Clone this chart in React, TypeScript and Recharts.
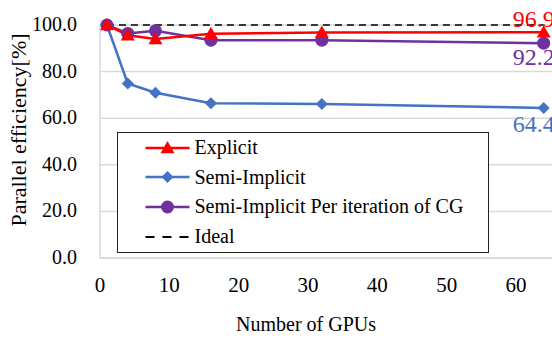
import React from "react";
import {
  LineChart,
  Line,
  XAxis,
  YAxis,
  CartesianGrid,
  Label,
  LabelList,
} from "recharts";

const gpus = [1, 4, 8, 16, 32, 64];
const explicit = [100, 95.6, 94.0, 96.2, 96.8, 96.9];
const semiImplicit = [100, 74.9, 70.9, 66.4, 66.1, 64.4];
const perIteration = [100, 96.4, 97.5, 93.5, 93.5, 92.2];
const ideal = [100, 100, 100, 100, 100, 100];

const xTicks = [0, 10, 20, 30, 40, 50, 60];
const yTicks = [0, 20, 40, 60, 80, 100];

const FONT = "Liberation Serif";

const COLORS = {
  explicit: "#ff0000",
  semi: "#4472c4",
  per: "#7030a0",
  ideal: "#000000",
};

const data = gpus.map((g, i) => ({
  gpus: g,
  explicit: explicit[i],
  semi: semiImplicit[i],
  per: perIteration[i],
  ideal: ideal[i],
}));

const lastIndex = gpus.length - 1;

function EndLabel(color: string, dy: number) {
  return (props: any) => {
    const { x, y, value, index } = props;
    if (index !== lastIndex) return null;
    return (
      <text
        x={x - 31}
        y={y + dy}
        fill={color}
        fontSize={24}
        fontFamily={FONT}
        textAnchor="start"
      >
        {Number(value).toFixed(1)}
      </text>
    );
  };
}

const XTick = (props: any) => {
  const { x, y, payload } = props;
  return (
    <text
      x={x}
      y={y + 26}
      fontSize={21}
      fontFamily={FONT}
      fill="#000"
      textAnchor="middle"
    >
      {payload.value}
    </text>
  );
};

const YTick = (props: any) => {
  const { x, y, payload } = props;
  return (
    <text
      x={x - 15}
      y={y + 6}
      fontSize={20}
      fontFamily={FONT}
      fill="#000"
      textAnchor="end"
    >
      {Number(payload.value).toFixed(1)}
    </text>
  );
};

const Triangle = (props: any) => {
  const { cx, cy, fill, size = 7 } = props;
  if (cx == null || cy == null) return null;
  return (
    <polygon
      points={`${cx},${cy - size} ${cx + size},${cy + size * 0.75} ${cx - size},${cy + size * 0.75}`}
      fill={fill}
    />
  );
};

const Diamond = (props: any) => {
  const { cx, cy, fill, size = 6 } = props;
  if (cx == null || cy == null) return null;
  return (
    <polygon
      points={`${cx},${cy - size} ${cx + size},${cy} ${cx},${cy + size} ${cx - size},${cy}`}
      fill={fill}
    />
  );
};

const legendItems = [
  { name: "Explicit", color: COLORS.explicit, marker: "triangle" },
  { name: "Semi-Implicit", color: COLORS.semi, marker: "diamond" },
  {
    name: "Semi-Implicit Per iteration of CG",
    color: COLORS.per,
    marker: "circle",
  },
  { name: "Ideal", color: COLORS.ideal, marker: "dash" },
];

function LegendBox() {
  return (
    <div
      style={{
        position: "absolute",
        left: 117,
        top: 132,
        width: 372,
        height: 121,
        border: "1.5px solid #222",
        background: "#fff",
        boxSizing: "border-box",
        fontFamily: FONT,
        fontSize: 20,
        color: "#000",
      }}
    >
      {legendItems.map((item) => (
        <div
          key={item.name}
          style={{ display: "flex", alignItems: "center", height: 29.6 }}
        >
          <svg width={76.5} height={20} style={{ flex: "none" }}>
            {item.marker === "dash" ? (
              <line
                x1={27.5}
                x2={71.5}
                y1={10}
                y2={10}
                stroke={item.color}
                strokeWidth={2}
                strokeDasharray="9 8"
              />
            ) : (
              <line
                x1={27.5}
                x2={71.5}
                y1={10}
                y2={10}
                stroke={item.color}
                strokeWidth={2.5}
              />
            )}
            {item.marker === "triangle" && (
              <Triangle cx={49.5} cy={10} fill={item.color} size={7} />
            )}
            {item.marker === "diamond" && (
              <Diamond cx={49.5} cy={10} fill={item.color} size={6} />
            )}
            {item.marker === "circle" && (
              <circle cx={49.5} cy={10} r={6.5} fill={item.color} />
            )}
          </svg>
          <span>{item.name}</span>
        </div>
      ))}
    </div>
  );
}

export default function App() {
  return (
    <div
      style={{
        position: "absolute",
        left: 0,
        top: 0,
        width: 552,
        height: 338,
        background: "#fff",
        fontFamily: FONT,
      }}
    >
      <LineChart
        width={552}
        height={338}
        data={data}
        margin={{ top: 25, right: 0, bottom: 20, left: 0 }}
      >
        <CartesianGrid
          vertical={false}
          stroke="#d9d9d9"
          strokeWidth={1.5}
        />
        <XAxis
          dataKey="gpus"
          type="number"
          domain={[0, 65.2]}
          ticks={xTicks}
          allowDataOverflow
          height={60}
          axisLine={{ stroke: "#d9d9d9", strokeWidth: 1.5 }}
          tickLine={false}
          tick={<XTick />}
        >
          <Label
            content={() => (
              <text
                x={306}
                y={331}
                fontSize={20}
                fontFamily={FONT}
                fill="#000"
                textAnchor="middle"
              >
                Number of GPUs
              </text>
            )}
          />
        </XAxis>
        <YAxis
          type="number"
          domain={[0, 100]}
          ticks={yTicks}
          width={100}
          axisLine={{ stroke: "#d9d9d9", strokeWidth: 1.5 }}
          tickLine={false}
          tick={<YTick />}
        >
          <Label
            content={() => (
              <text
                x={26}
                y={130}
                fontSize={22}
                fontFamily={FONT}
                fill="#000"
                textAnchor="middle"
                transform="rotate(-90 26 130)"
              >
                Parallel efficiency[%]
              </text>
            )}
          />
        </YAxis>
        <Line
          dataKey="ideal"
          stroke={COLORS.ideal}
          strokeWidth={1.5}
          strokeDasharray="7 5"
          dot={false}
          isAnimationActive={false}
        />
        <Line
          dataKey="semi"
          stroke={COLORS.semi}
          strokeWidth={2.5}
          dot={<Diamond fill={COLORS.semi} size={6} />}
          isAnimationActive={false}
        >
          <LabelList dataKey="semi" content={EndLabel(COLORS.semi, 24)} />
        </Line>
        <Line
          dataKey="per"
          stroke={COLORS.per}
          strokeWidth={2.5}
          dot={{ r: 6.5, fill: COLORS.per, stroke: COLORS.per, strokeWidth: 0 }}
          isAnimationActive={false}
        >
          <LabelList dataKey="per" content={EndLabel(COLORS.per, 22)} />
        </Line>
        <Line
          dataKey="explicit"
          stroke={COLORS.explicit}
          strokeWidth={2.5}
          dot={<Triangle fill={COLORS.explicit} size={7} />}
          isAnimationActive={false}
        >
          <LabelList
            dataKey="explicit"
            content={EndLabel(COLORS.explicit, -5)}
          />
        </Line>
      </LineChart>
      <LegendBox />
    </div>
  );
}
